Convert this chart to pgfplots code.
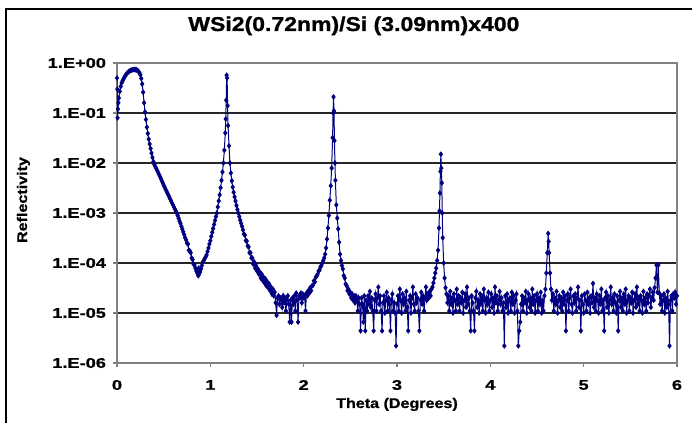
\documentclass[border=0pt]{standalone}
\usepackage{pgfplots}
\pgfplotsset{compat=1.18}
\usepackage{fontspec}
\setmainfont{Liberation Sans}
\newfontfamily\tickfont[FakeStretch=1.3, BoldFeatures={FakeBold=1}]{Liberation Sans}
\newfontfamily\labfont[FakeStretch=1.15, BoldFeatures={FakeBold=1}]{Liberation Sans}
\definecolor{navy}{RGB}{0,0,128}
\definecolor{axgray}{RGB}{128,128,128}

\begin{document}
\begin{tikzpicture}
\useasboundingbox (0pt,0pt) rectangle (346pt,211.5pt);
\draw[black,line width=0.6pt] (3pt,0pt) -- (3pt,207pt) -- (346pt,207pt);
\begin{axis}[
    at={(58.5pt,30pt)}, anchor=south west,
    scale only axis, width=280pt, height=150pt,
    xmin=0, xmax=6, ymin=1e-6, ymax=1,
    ymode=log,
    xtick={0,1,2,3,4,5,6},
    xticklabels={0,1,2,3,4,5,6},
    ytick={1e-6,1e-5,1e-4,1e-3,1e-2,1e-1,1},
    yticklabels={1.E-06,1.E-05,1.E-04,1.E-03,1.E-02,1.E-01,1.E+00},
    yminorticks=false,
    tick align=outside, major tick length=2pt,
    tick style={axgray, line width=0.6pt},
    xtick pos=bottom, ytick pos=left,
    axis line style={axgray, line width=0.6pt},
    ymajorgrids, major grid style={black!85, line width=0.6pt},
    ticklabel style={font=\tickfont\bfseries\fontsize{7}{8}\selectfont, text=black},
    xticklabel style={yshift=-3pt},
    title={WSi2(0.72nm)/Si (3.09nm)x400},
    title style={at={(axis description cs:0.423,1.0667)}, anchor=base,
      font=\labfont\bfseries\fontsize{10}{12}\selectfont},
    xlabel={Theta (Degrees)},
    xlabel style={at={(axis description cs:0.5,0)}, anchor=base, yshift=-22.5pt,
      font=\labfont\bfseries\fontsize{7}{8}\selectfont},
    ylabel={Reflectivity},
    ylabel style={at={(axis description cs:-0.1607,0.5433)}, anchor=base,
      font=\labfont\bfseries\fontsize{7}{8}\selectfont},
]
\addplot[navy, line width=0.5pt, mark=diamond*, mark size=1.05pt,
  mark options={navy}] coordinates {
(0,0.5)(0.003,0.3)(0.006,0.08)(0.01,0.12)(0.015,0.16)(0.02,0.2)(0.03,0.27)
(0.04,0.34)(0.05,0.40)(0.06,0.44)(0.07,0.48)(0.08,0.52)(0.09,0.56)(0.10,0.60)
(0.11,0.63)(0.12,0.66)(0.13,0.68)(0.14,0.70)(0.15,0.715)(0.16,0.725)(0.17,0.735)
(0.18,0.74)(0.19,0.74)(0.20,0.735)(0.21,0.73)(0.22,0.71)(0.23,0.68)(0.24,0.64)
(0.25,0.58)(0.26,0.49)(0.27,0.38)(0.28,0.26)(0.29,0.16)(0.30,0.105)
(0.31,0.074)(0.32,0.052)(0.33,0.039)(0.34,0.030)(0.35,0.024)(0.36,0.0195)
(0.37,0.0158)(0.38,0.0129)(0.39,0.0107)(0.40,0.0093)(0.41,0.0085)(0.42,0.0078)
(0.43,0.0071)(0.44,0.0065)(0.45,0.0059)(0.46,0.0054)(0.47,0.0049)(0.48,0.0044)
(0.49,0.0040)(0.50,0.0036)(0.51,0.0033)(0.52,0.0030)(0.53,0.00275)(0.54,0.0025)
(0.55,0.0023)(0.56,0.0021)(0.57,0.0019)(0.58,0.00174)(0.59,0.00158)(0.60,0.00145)
(0.61,0.00132)(0.62,0.0012)(0.63,0.0011)(0.64,0.0010)(0.65,8.9e-4)(0.66,7.9e-4)
(0.67,6.9e-4)(0.68,6.2e-4)(0.69,5.4e-4)(0.70,4.8e-4)(0.71,4.2e-4)(0.72,3.7e-4)
(0.73,3.2e-4)(0.74,2.9e-4)(0.75,2.5e-4)(0.76,2.4e-4)(0.77,1.8e-4)(0.78,1.74e-4)
(0.79,1.6e-4)(0.80,1.26e-4)(0.81,1.17e-4)(0.82,9.5e-5)(0.83,9.1e-5)(0.84,7.9e-5)
(0.85,6.9e-5)(0.86,6.3e-5)(0.87,5.6e-5)(0.875,7.9e-5)(0.88,6.0e-5)(0.885,7.1e-5)
(0.89,6.6e-5)(0.90,7.6e-5)(0.91,8.9e-5)(0.92,1.05e-4)(0.93,1.12e-4)(0.94,1.23e-4)
(0.95,1.32e-4)(0.96,1.45e-4)(0.97,1.7e-4)(0.98,2.0e-4)(0.99,2.4e-4)(1.00,2.8e-4)
(1.01,3.4e-4)(1.02,4.1e-4)(1.03,4.9e-4)(1.04,5.9e-4)(1.05,7.1e-4)(1.06,8.5e-4)
(1.07,1.0e-3)(1.08,1.32e-3)(1.09,1.74e-3)(1.10,2.3e-3)(1.11,3.2e-3)(1.12,4.5e-3)
(1.13,6.6e-3)(1.14,1.0e-2)(1.15,1.8e-2)(1.16,4.0e-2)(1.165,7.6e-2)(1.17,0.18)
(1.175,0.57)(1.18,0.50)(1.185,0.14)(1.19,0.056)(1.20,0.022)(1.21,0.010)
(1.22,6.3e-3)(1.23,4.4e-3)(1.24,3.3e-3)(1.25,2.6e-3)(1.26,2.1e-3)(1.27,1.74e-3)
(1.28,1.41e-3)(1.29,1.17e-3)(1.30,1.0e-3)(1.31,8.5e-4)(1.32,7.2e-4)(1.33,6.2e-4)
(1.34,5.4e-4)(1.35,4.6e-4)(1.36,3.8e-4)(1.37,3.6e-4)(1.38,2.8e-4)(1.39,2.75e-4)
(1.40,2.2e-4)(1.41,2.1e-4)(1.42,1.6e-4)(1.43,1.6e-4)(1.44,1.26e-4)(1.45,1.26e-4)
(1.46,9.5e-5)(1.47,1.05e-4)(1.48,7.9e-5)(1.49,8.9e-5)(1.50,6.9e-5)(1.51,7.6e-5)
(1.52,6.0e-5)(1.53,6.6e-5)(1.54,5.0e-5)(1.55,6.0e-5)(1.56,4.5e-5)(1.57,5.2e-5)
(1.58,4.0e-5)(1.59,4.8e-5)(1.60,3.5e-5)(1.61,4.2e-5)(1.62,3.2e-5)(1.63,3.8e-5)
(1.64,2.8e-5)(1.65,3.3e-5)(1.66,2.4e-5)(1.67,3.0e-5)(1.68,2.2e-5)(1.69,2.6e-5)
(1.70,1.6e-5)(1.71,9e-6)(1.72,2.0e-5)(1.73,2.2e-5)(1.74,1.5e-5)(1.75,2.0e-5)
(1.76,1.8e-5)(1.77,1.3e-5)(1.78,2.2e-5)(1.79,1.6e-5)(1.80,2.0e-5)(1.81,1.1e-5)
(1.82,1.8e-5)(1.83,2.2e-5)(1.84,1.5e-5)(1.85,6.6e-6)(1.86,1.8e-5)(1.87,6.6e-6)
(1.88,2.0e-5)(1.89,1.5e-5)(1.90,2.2e-5)(1.91,1.1e-5)(1.92,2.5e-5)(1.93,1.8e-5)
(1.94,6.6e-6)(1.95,2.2e-5)(1.96,2.0e-5)(1.97,2.5e-5)(1.98,1.6e-5)(1.99,2.4e-5)
(2.00,2.0e-5)(2.01,2.2e-5)(2.02,1.1e-5)(2.03,2.5e-5)(2.04,2.2e-5)(2.05,2.8e-5)
(2.06,2.5e-5)(2.07,3.2e-5)(2.08,2.8e-5)(2.09,3.5e-5)(2.10,3.6e-5)(2.11,4.4e-5)
(2.12,4.2e-5)(2.13,5.2e-5)(2.14,5.5e-5)(2.15,6.0e-5)(2.16,6.9e-5)(2.17,7.2e-5)
(2.18,8.3e-5)(2.19,8.9e-5)(2.20,1.0e-4)(2.21,1.12e-4)(2.22,1.26e-4)(2.23,1.5e-4)
(2.24,2.0e-4)(2.25,3.0e-4)(2.26,5.0e-4)(2.27,8.9e-4)(2.28,1.8e-3)(2.29,3.5e-3)
(2.30,7.9e-3)(2.31,3.2e-2)(2.315,0.1)(2.32,0.21)(2.325,0.11)(2.33,2.8e-2)
(2.335,1e-2)(2.34,4.5e-3)(2.35,1.45e-3)(2.36,7.9e-4)(2.37,4.8e-4)(2.38,2.6e-4)
(2.39,1.5e-4)(2.40,1.12e-4)(2.41,8.9e-5)(2.42,7.6e-5)(2.43,5.6e-5)(2.44,5.0e-5)
(2.45,3.8e-5)(2.46,3.5e-5)(2.47,2.8e-5)(2.48,3.0e-5)(2.49,2.4e-5)(2.50,2.6e-5)
(2.51,2.0e-5)(2.52,2.4e-5)(2.53,1.8e-5)(2.54,2.2e-5)(2.55,1.6e-5)(2.56,2.2e-5)
(2.57,1.8e-5)(2.58,1.1e-5)(2.59,2.0e-5)(2.60,1.5e-5)(2.61,4.4e-6)(2.62,2.0e-5)
(2.63,1.5e-5)(2.64,6.6e-6)(2.65,2.2e-5)(2.66,4.4e-6)(2.67,1.8e-5)(2.68,1.1e-5)
(2.69,2.2e-5)(2.70,1.5e-5)(2.71,2.7e-5)(2.72,1.3e-5)(2.73,2.0e-5)(2.74,1.1e-5)
(2.75,4.4e-6)(2.76,1.8e-5)(2.77,2.4e-5)(2.78,1.1e-5)(2.79,2.0e-5)(2.80,3.3e-5)
(2.81,1.5e-5)(2.82,2.2e-5)(2.83,1.1e-5)(2.84,4.4e-6)(2.85,1.6e-5)(2.86,2.2e-5)
(2.87,1.0e-5)(2.88,1.8e-5)(2.89,2.6e-5)(2.90,1.1e-5)(2.91,2.0e-5)(2.92,1.5e-5)
(2.93,4.4e-6)(2.94,1.8e-5)(2.95,2.4e-5)(2.96,1.1e-5)(2.97,1.6e-5)(2.98,1.0e-5)
(2.99,2.2e-6)(3.00,1.5e-5)(3.01,2.2e-5)(3.02,1.1e-5)(3.03,3.0e-5)(3.04,1.8e-5)
(3.05,1.0e-5)(3.06,2.4e-5)(3.07,1.5e-5)(3.08,2.0e-5)(3.09,1.1e-5)(3.10,2.7e-5)
(3.11,1.3e-5)(3.12,4.4e-6)(3.13,1.8e-5)(3.14,2.2e-5)(3.15,1.0e-5)(3.16,2.0e-5)
(3.17,3.3e-5)(3.18,1.5e-5)(3.19,1.1e-5)(3.20,2.4e-5)(3.21,1.6e-5)(3.22,2.0e-5)
(3.23,1.1e-5)(3.24,4.4e-6)(3.25,1.8e-5)(3.26,2.6e-5)(3.27,1.5e-5)(3.28,2.2e-5)
(3.29,1.1e-5)(3.30,2.0e-5)(3.31,3.3e-5)(3.32,1.8e-5)(3.33,2.4e-5)(3.34,2.0e-5)
(3.35,2.7e-5)(3.36,2.2e-5)(3.37,3.0e-5)(3.38,3.3e-5)(3.39,4.0e-5)(3.40,5.0e-5)
(3.41,6.3e-5)(3.42,7.9e-5)(3.43,1.12e-4)(3.44,1.8e-4)(3.45,5.0e-4)(3.455,1.1e-3)
(3.46,2.5e-3)(3.465,6.8e-3)(3.47,1.5e-2)(3.475,7.9e-3)(3.48,4.0e-3)(3.485,1e-3)
(3.49,3.2e-4)(3.50,1e-4)(3.51,5e-5)(3.52,3.2e-5)(3.53,2.4e-5)(3.54,1.6e-5)
(3.55,2.2e-5)(3.56,1.1e-5)(3.57,2.7e-5)(3.58,1.5e-5)(3.59,2.0e-5)(3.60,1.0e-5)
(3.61,2.4e-5)(3.62,1.8e-5)(3.63,1.1e-5)(3.64,3.0e-5)(3.65,1.5e-5)(3.66,2.2e-5)
(3.67,1.1e-5)(3.68,2.0e-5)(3.69,1.6e-5)(3.70,2.6e-5)(3.71,1.0e-5)(3.72,1.8e-5)
(3.73,2.4e-5)(3.74,1.3e-5)(3.75,3.3e-5)(3.76,1.5e-5)(3.77,2.0e-5)(3.78,1.1e-5)
(3.79,4.4e-6)(3.80,2.2e-5)(3.81,1.6e-5)(3.82,1.1e-5)(3.83,4.4e-6)(3.84,2.0e-5)
(3.85,2.7e-5)(3.86,1.3e-5)(3.87,1.8e-5)(3.88,1.0e-5)(3.89,2.4e-5)(3.90,1.5e-5)
(3.91,2.2e-5)(3.92,1.1e-5)(3.93,3.0e-5)(3.94,1.8e-5)(3.95,1.0e-5)(3.96,2.0e-5)
(3.97,1.5e-5)(3.98,2.6e-5)(3.99,1.1e-5)(4.00,1.8e-5)(4.01,2.4e-5)(4.02,1.3e-5)
(4.03,2.0e-5)(4.04,1.0e-5)(4.05,3.3e-5)(4.06,1.6e-5)(4.07,2.2e-5)(4.08,1.1e-5)
(4.09,1.8e-5)(4.10,2.7e-5)(4.11,1.5e-5)(4.12,2.0e-5)(4.13,1.1e-5)(4.14,1.6e-5)
(4.15,2.2e-6)(4.16,2.2e-5)(4.17,1.3e-5)(4.18,2.4e-5)(4.19,1.0e-5)(4.20,1.8e-5)
(4.21,2.0e-5)(4.22,1.1e-5)(4.23,2.6e-5)(4.24,1.5e-5)(4.25,2.2e-5)(4.26,1.0e-5)
(4.27,1.8e-5)(4.28,2.4e-5)(4.29,1.1e-5)(4.30,2.2e-6)(4.31,4.4e-6)(4.32,6.6e-6)
(4.33,1.5e-5)(4.34,2.2e-5)(4.35,1.1e-5)(4.36,2.0e-5)(4.37,1.6e-5)(4.38,2.7e-5)
(4.39,1.0e-5)(4.40,1.8e-5)(4.41,2.4e-5)(4.42,1.3e-5)(4.43,2.0e-5)(4.44,1.1e-5)
(4.45,3.0e-5)(4.46,1.5e-5)(4.47,2.2e-5)(4.48,1.0e-5)(4.49,1.8e-5)(4.50,2.4e-5)
(4.51,1.1e-5)(4.52,2.0e-5)(4.53,1.5e-5)(4.54,2.6e-5)(4.55,1.0e-5)(4.56,1.8e-5)
(4.57,1.1e-5)(4.58,2.2e-5)(4.59,3.0e-5)(4.60,6.3e-5)(4.61,1.6e-4)(4.62,3.9e-4)
(4.625,2.7e-4)(4.63,1.6e-4)(4.64,6.3e-5)(4.65,3.0e-5)(4.66,1.8e-5)(4.67,2.4e-5)
(4.68,1.1e-5)(4.69,2.0e-5)(4.70,1.5e-5)(4.71,2.7e-5)(4.72,1.0e-5)(4.73,1.8e-5)
(4.74,2.2e-5)(4.75,1.3e-5)(4.76,2.0e-5)(4.77,1.1e-5)(4.78,2.6e-5)(4.79,1.5e-5)
(4.80,2.2e-5)(4.81,4.4e-6)(4.82,1.8e-5)(4.83,2.4e-5)(4.84,1.1e-5)(4.85,2.0e-5)
(4.86,3.0e-5)(4.87,1.5e-5)(4.88,1.0e-5)(4.89,2.2e-5)(4.90,1.6e-5)(4.91,2.4e-5)
(4.92,1.1e-5)(4.93,2.0e-5)(4.94,3.3e-5)(4.95,1.3e-5)(4.96,1.8e-5)(4.97,4.4e-6)
(4.98,2.2e-5)(4.99,1.5e-5)(5.00,1.0e-5)(5.01,2.4e-5)(5.02,1.8e-5)(5.03,1.1e-5)
(5.04,2.6e-5)(5.05,1.5e-5)(5.06,2.0e-5)(5.07,1.0e-5)(5.08,2.2e-5)(5.09,1.6e-5)
(5.10,3.9e-5)(5.11,1.3e-5)(5.12,2.0e-5)(5.13,1.1e-5)(5.14,2.4e-5)(5.15,1.8e-5)
(5.16,1.0e-5)(5.17,2.2e-5)(5.18,1.5e-5)(5.19,3.0e-5)(5.20,1.1e-5)(5.21,1.8e-5)
(5.22,4.4e-6)(5.23,2.0e-5)(5.24,2.6e-5)(5.25,1.3e-5)(5.26,2.2e-5)(5.27,1.0e-5)
(5.28,1.8e-5)(5.29,3.3e-5)(5.30,1.5e-5)(5.31,2.0e-5)(5.32,1.1e-5)(5.33,2.4e-5)
(5.34,1.6e-5)(5.35,1.0e-5)(5.36,2.2e-5)(5.37,4.4e-6)(5.38,1.8e-5)(5.39,2.7e-5)
(5.40,1.3e-5)(5.41,2.0e-5)(5.42,1.1e-5)(5.43,2.4e-5)(5.44,1.5e-5)(5.45,3.0e-5)
(5.46,1.0e-5)(5.47,1.8e-5)(5.48,2.2e-5)(5.49,1.1e-5)(5.50,2.0e-5)(5.51,1.6e-5)
(5.52,2.6e-5)(5.53,1.0e-5)(5.54,1.8e-5)(5.55,2.4e-5)(5.56,1.3e-5)(5.57,3.3e-5)
(5.58,1.5e-5)(5.59,2.0e-5)(5.60,1.1e-5)(5.61,2.2e-5)(5.62,1.8e-5)(5.63,1.0e-5)
(5.64,2.7e-5)(5.65,1.5e-5)(5.66,2.0e-5)(5.67,1.1e-5)(5.68,2.4e-5)(5.69,1.6e-5)
(5.70,2.2e-5)(5.71,3.0e-5)(5.72,1.3e-5)(5.73,2.0e-5)(5.74,2.6e-5)(5.75,1.8e-5)
(5.76,3.2e-5)(5.77,5.0e-5)(5.78,9.1e-5)(5.79,2.6e-5)(5.80,9.1e-5)(5.81,2.5e-5)
(5.82,1.5e-5)(5.83,2.2e-5)(5.84,1.1e-5)(5.85,1.8e-5)(5.86,2.4e-5)(5.87,1.0e-5)
(5.88,2.0e-5)(5.89,1.3e-5)(5.90,2.7e-5)(5.91,1.5e-5)(5.92,2.2e-6)(5.93,1.8e-5)
(5.94,2.2e-5)(5.95,1.1e-5)(5.96,2.4e-5)(5.97,2.0e-5)(5.98,2.6e-5)(5.99,1.5e-5)
(6.00,2.2e-5)
};
\end{axis}
\end{tikzpicture}
\end{document}
